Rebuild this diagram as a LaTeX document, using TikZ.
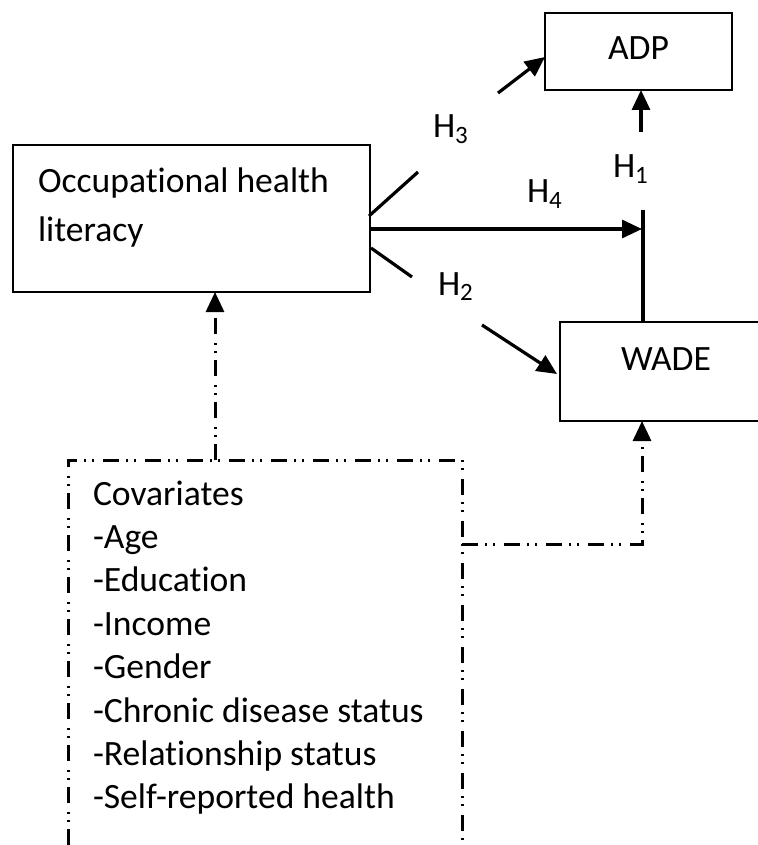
\documentclass[tikz,border=0pt]{standalone}
\usepackage{fontspec}
\setmainfont{Carlito}[Ligatures=NoCommon]
\usetikzlibrary{arrows.meta}
\begin{document}
\begin{tikzpicture}[x=0.5pt,y=-0.5pt,
  every node/.style={font=\fontsize{17.8}{21.75}\selectfont, inner sep=0pt, outer sep=0pt},
  box/.style={draw, line width=1.4pt, anchor=north west},
  solidline/.style={line width=1.6pt},
  arr/.style={-{Triangle[length=10pt,width=9pt]}},
  dashdot/.style={line width=1.5pt, dash pattern=on 8pt off 3.5pt on 1pt off 3pt on 1pt off 4.5pt},
  txt/.style={anchor=base west}]
\useasboundingbox (0,0) rectangle (758,845);
\clip (0,0) rectangle (758,845);
% boxes
\node[box, minimum width=178.5pt, minimum height=73.5pt] (ohl) at (13,145) {};
\node[box, minimum width=93.5pt, minimum height=38.5pt] (adp) at (545,13) {};
\node[box, minimum width=110pt, minimum height=49.5pt] (wade) at (560,322) {};
% box texts
\node[txt] (ohlt1) at (38,193) {Occupational health};
\node[txt] (ohlt2) at (38,242) {literacy};
\node[txt] (adpt) at (608,60) {ADP};
\node[txt] (wadet) at (621,370) {WADE};
% covariates
\coordinate (cbl) at (68,845);
\coordinate (ctl) at (68,460);
\coordinate (ctr) at (462,460);
\coordinate (cbr) at (462,845);
\draw[dashdot] (cbl) -- (ctl) -- (ctr) -- (cbr);
\foreach \t [count=\i from 0] in {Covariates,-Age,-Education,-Income,-Gender,-Chronic disease status,-Relationship status,-Self-reported health}
  \node[txt] (cov\i) at (93,505+43.4*\i) {\t};
% covariate connectors
\coordinate (covtop) at (215,460);
\coordinate (covright) at (462,544);
\coordinate (covcorner) at (642,544);
\draw[dashdot,arr] (covtop) -- (covtop |- ohl.south);
\draw[dashdot,arr] (covright) -- (covcorner) -- (covcorner |- wade.south);
% H1
\coordinate (h1top) at (643,210);
\coordinate (h1a) at (641,132);
\draw[solidline] (h1top) -- (h1top |- wade.north);
\draw[solidline,arr] (h1a) -- (h1a |- adp.south);
% H4
\coordinate (h4s) at (370,229);
\coordinate (h4e) at (642,229);
\draw[solidline,arr] (h4s) -- (h4e);
% H3
\coordinate (h3s) at (369,216);
\coordinate (h3m) at (418,172);
\coordinate (h3r) at (498,93);
\coordinate (h3e) at (545,57);
\draw[solidline] (h3s) -- (h3m);
\draw[solidline,arr] (h3r) -- (h3e);
% H2
\coordinate (h2s) at (371,248);
\coordinate (h2m) at (412,277);
\coordinate (h2r) at (482,325);
\coordinate (h2e) at (557,374);
\draw[solidline] (h2s) -- (h2m);
\draw[solidline,arr] (h2r) -- (h2e);
% labels
\node[txt] (l3) at (433,138) {H\textsubscript{3}};
\node[txt] (l4) at (527,203) {H\textsubscript{4}};
\node[txt] (l1) at (613,178) {H\textsubscript{1}};
\node[txt] (l2) at (438,295) {H\textsubscript{2}};
\end{tikzpicture}
\end{document}
